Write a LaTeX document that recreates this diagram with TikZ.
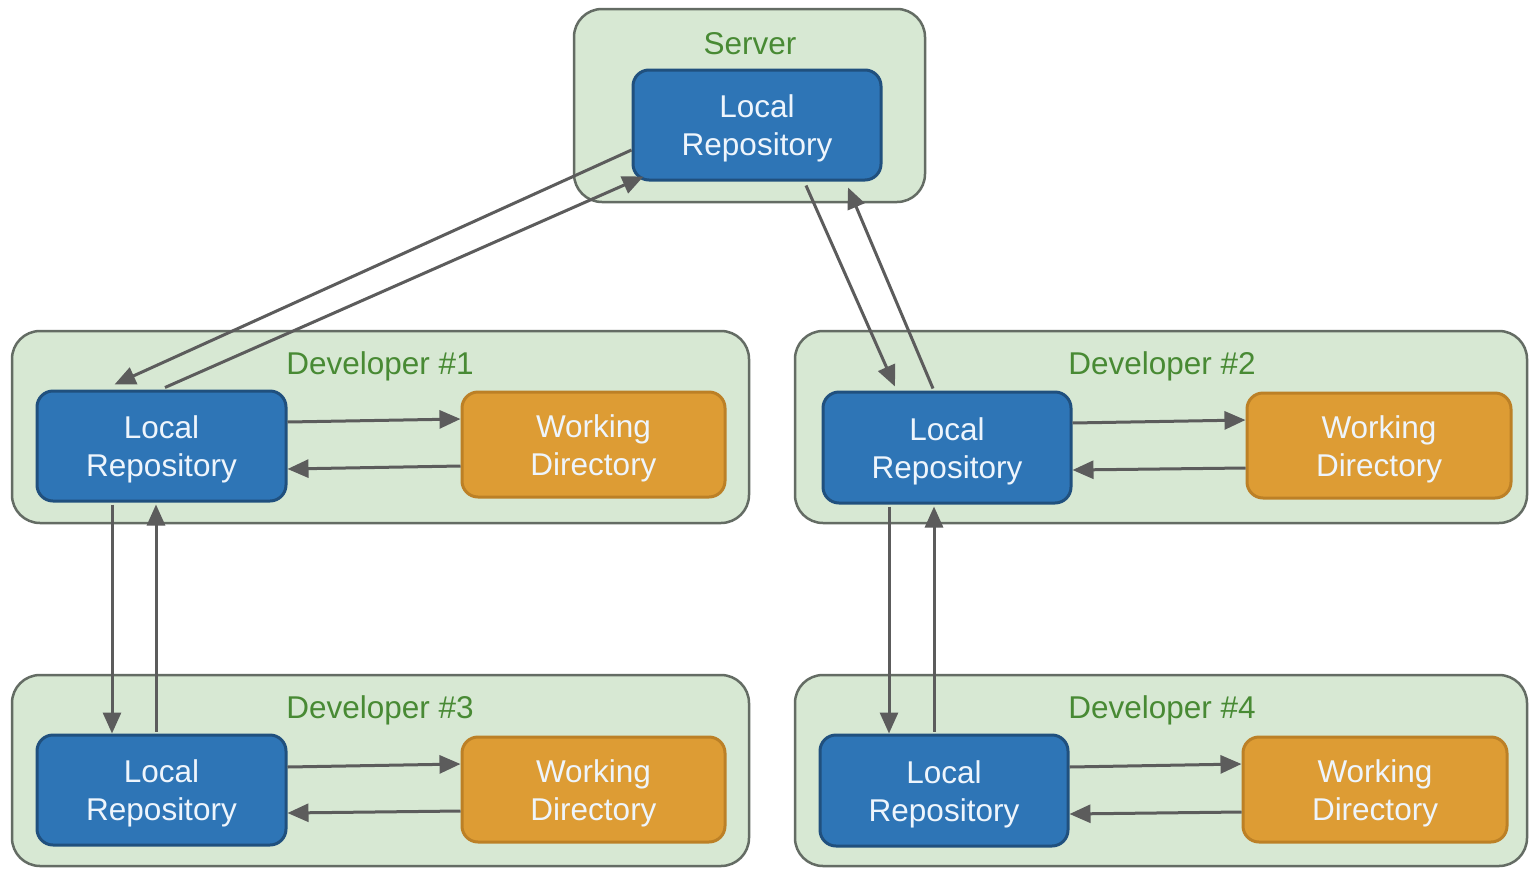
\documentclass[tikz,border=0pt]{standalone}
\usepackage{fontspec}
\setmainfont{Liberation Sans}
\usetikzlibrary{arrows.meta,calc}
\definecolor{grpfill}{RGB}{215,232,211}
\definecolor{grpdraw}{RGB}{100,108,100}
\definecolor{grptext}{RGB}{72,138,52}
\definecolor{repofill}{RGB}{46,117,182}
\definecolor{repodraw}{RGB}{32,80,126}
\definecolor{wdfill}{RGB}{221,156,52}
\definecolor{wddraw}{RGB}{188,128,38}
\definecolor{arrcol}{RGB}{92,92,92}
\definecolor{boxtext}{RGB}{238,245,252}
\newcommand\boxtxt[1]{\raisebox{-4pt}[\height][\depth]{\begin{tabular}{@{}c@{}}#1\end{tabular}}}
\begin{document}
\begin{tikzpicture}[x=1pt,y=-1pt,
  grp/.style={draw=grpdraw,fill=grpfill,line width=2.5pt,rounded corners=28pt,inner sep=0pt},
  grplabel/.style={text=grptext,font=\fontsize{31.5}{38}\selectfont,inner sep=0pt},
  boxbase/.style={line width=3pt,rounded corners=16pt,text=boxtext,
    font=\fontsize{31.5}{38}\selectfont,inner sep=0pt},
  repo/.style={boxbase,draw=repodraw,fill=repofill,minimum width=248pt,minimum height=110pt},
  wd/.style={boxbase,draw=wddraw,fill=wdfill,minimum width=263pt,minimum height=105pt},
  arr/.style={draw=arrcol,line width=3pt,-{Triangle[length=21pt,width=18pt]}}]
\useasboundingbox (0,0) rectangle (1529,868);
\fill[white] (0,0) rectangle (1529,868);
% containers
\node[grp,minimum width=351pt,minimum height=193pt] (gs) at (749.5,105.5) {};
\node[grp,minimum width=737pt,minimum height=192pt] (g1) at (380.5,427) {};
\node[grp,minimum width=732pt,minimum height=192pt] (g2) at (1161,427) {};
\node[grp,minimum width=737pt,minimum height=191pt] (g3) at (380.5,770.5) {};
\node[grp,minimum width=732pt,minimum height=191pt] (g4) at (1161,770.5) {};
% labels
\node[grplabel] (ls) at (750,44) {Server};
\node[grplabel] (l1) at (380,366) {Developer \#1};
\node[grplabel] (l2) at (1162,366) {Developer \#2};
\node[grplabel] (l3) at (380,710) {Developer \#3};
\node[grplabel] (l4) at (1162,710) {Developer \#4};
% repos
\node[repo] (rs) at (757,125) {\boxtxt{Local\\Repository}};
\node[repo,minimum width=249pt] (r1) at (161.5,446) {\boxtxt{Local\\Repository}};
\node[repo,minimum height=111pt] (r2) at (947,447.5) {\boxtxt{Local\\Repository}};
\node[repo,minimum width=249pt] (r3) at (161.5,790) {\boxtxt{Local\\Repository}};
\node[repo,minimum height=111pt] (r4) at (944,790.5) {\boxtxt{Local\\Repository}};
% working dirs
\node[wd] (w1) at (593.5,444.5) {\boxtxt{Working\\Directory}};
\node[wd,minimum width=264pt] (w2) at (1379,445.5) {\boxtxt{Working\\Directory}};
\node[wd] (w3) at (593.5,789.5) {\boxtxt{Working\\Directory}};
\node[wd,minimum width=264pt] (w4) at (1375,789.5) {\boxtxt{Working\\Directory}};
% server <-> dev1
\draw[arr] ($(rs.west)+(0,25)$) -- ($(r1.north)+(-47,-5)$);
\draw[arr] ($(r1.north)+(3.5,-2)$) -- ($(rs.south west)+(12,-5)$);
% server <-> dev2
\draw[arr] ($(rs.south)+(49,4)$) -- ($(r2.north)+(-52,-4)$);
\draw[arr] ($(r2.north)+(-14,-2)$) -- ($(rs.south)+(91,6)$);
% dev1 <-> dev3
\draw[arr] ($(r1.south)+(-49.5,2)$) -- ($(r3.north)+(-49.5,0)$);
\draw[arr] ($(r3.north)+(-5.5,-2)$) -- ($(r1.south)+(-5.5,2)$);
% dev2 <-> dev4
\draw[arr] ($(r2.south)+(-58,2)$) -- ($(r4.north)+(-55,0)$);
\draw[arr] ($(r4.north)+(-10,-2)$) -- ($(r2.south)+(-13,2)$);
% repo <-> working dir
\draw[arr] ($(r1.east)+(0,-24)$) -- ($(w1.west)+(0,-25.5)$);
\draw[arr] ($(w1.west)+(0,21.5)$) -- ($(r1.east)+(0,23)$);
\draw[arr] ($(r2.east)+(0,-24.5)$) -- ($(w2.west)+(0,-25.5)$);
\draw[arr] ($(w2.west)+(0,22.5)$) -- ($(r2.east)+(0,22.5)$);
\draw[arr] ($(r3.east)+(0,-23)$) -- ($(w3.west)+(0,-25.5)$);
\draw[arr] ($(w3.west)+(0,21.5)$) -- ($(r3.east)+(0,23)$);
\draw[arr] ($(r4.east)+(0,-23.5)$) -- ($(w4.west)+(0,-25.5)$);
\draw[arr] ($(w4.west)+(0,22.5)$) -- ($(r4.east)+(0,23.5)$);
\end{tikzpicture}
\end{document}
